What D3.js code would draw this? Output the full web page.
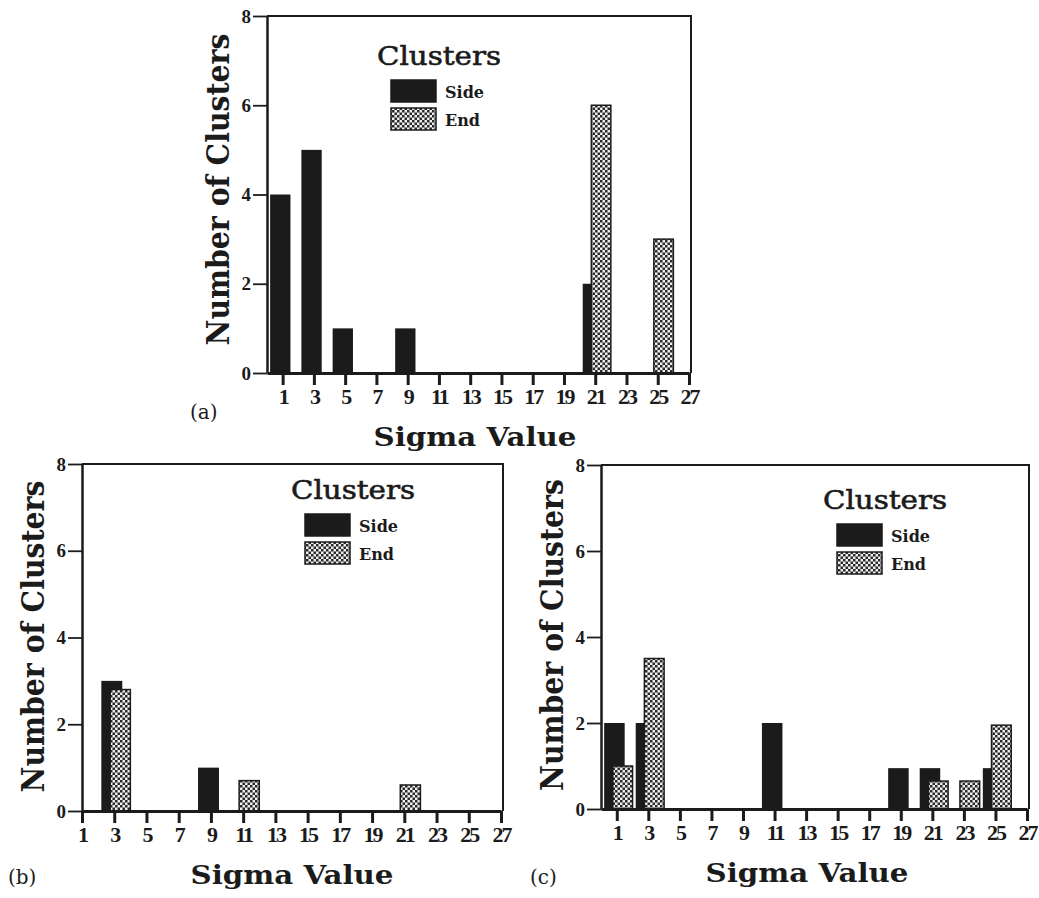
<!DOCTYPE html>
<html>
<head>
<meta charset="utf-8">
<script src="https://cdn.jsdelivr.net/npm/d3@7"></script>
<style>
  body { margin: 0; background: #fff; }
  svg { display: block; }
</style>
</head>
<body>
<div id="grafico"></div>
<script>
// dados
const sigmaTicks = [1, 3, 5, 7, 9, 11, 13, 15, 17, 19, 21, 23, 25, 27];
const yTicks = [0, 2, 4, 6, 8];
const legendTitle = "Clusters";
const seriesNames = ["Side", "End"];

// painel (a)
const sigmaSideA = [1, 3, 5, 9, 21];
const sideA = [4, 5, 1, 1, 2];
const sigmaEndA = [21, 25];
const endA = [6, 3];

// painel (b)
const sigmaSideB = [3, 9];
const sideB = [3, 1];
const sigmaEndB = [3, 11, 21];
const endB = [2.8, 0.7, 0.6];

// painel (c)
const sigmaSideC = [1, 3, 11, 19, 21, 25];
const sideC = [2, 2, 2, 0.95, 0.95, 0.95];
const sigmaEndC = [1, 3, 21, 23, 25];
const endC = [1, 3.5, 0.65, 0.65, 1.95];

const svg = d3.select("#grafico")
    .append("svg")
    .attr("width", 1039)
    .attr("height", 898)
    .style("background", "#fff");

// padrao pontilhado das barras "End"
const pat = svg.append("defs").append("pattern")
    .attr("id", "pontos")
    .attr("width", 5).attr("height", 5)
    .attr("patternUnits", "userSpaceOnUse");
pat.append("rect").attr("width", 5).attr("height", 5).attr("fill", "#eeeeee");
pat.append("rect").attr("width", 2.5).attr("height", 2.5).attr("fill", "#2b2b2b");
pat.append("rect").attr("x", 2.5).attr("y", 2.5).attr("width", 2.5).attr("height", 2.5).attr("fill", "#2b2b2b");

const serif = "'DejaVu Serif', serif";
const tickFont = "'Liberation Serif', 'Times New Roman', serif";

function criarPainel(p) {
    const x = d3.scaleLinear().domain(p.xDomain).range([p.left, p.right]);
    const y = d3.scaleLinear().domain([0, 8]).range([p.bottom, p.top]);
    const g = svg.append("g");

    const side = p.sigmaSide.map((s, i) => ({ s: s, v: p.side[i] }));
    const end = p.sigmaEnd.map((s, i) => ({ s: s, v: p.end[i] }));

    // barras Side (pretas)
    g.selectAll(".side")
        .data(side)
        .enter()
        .append("rect")
        .attr("class", "side")
        .attr("x", d => Math.max(p.left, x(d.s - 0.8)))
        .attr("width", d => x(d.s + 0.5) - Math.max(p.left, x(d.s - 0.8)))
        .attr("y", d => y(d.v))
        .attr("height", d => y(0) - y(d.v))
        .attr("fill", "#1b1b1b");

    // barras End (pontilhadas), por cima
    g.selectAll(".end")
        .data(end)
        .enter()
        .append("rect")
        .attr("class", "end")
        .attr("x", d => x(d.s - 0.25))
        .attr("width", d => x(d.s + 1) - x(d.s - 0.25))
        .attr("y", d => y(d.v))
        .attr("height", d => y(0) - y(d.v))
        .attr("fill", "url(#pontos)")
        .attr("stroke", "#1b1b1b")
        .attr("stroke-width", 1.5);

    // moldura de cima e da direita
    g.append("path")
        .attr("d", `M${p.left},${p.top}H${p.right + 2}V${p.bottom}`)
        .attr("fill", "none")
        .attr("stroke", "#1b1b1b")
        .attr("stroke-width", 2);

    // eixo y
    const ay = g.append("g")
        .attr("transform", `translate(${p.left},0)`)
        .attr("font-size", 19)
        .call(d3.axisLeft(y).tickValues(yTicks).tickSizeInner(14).tickSizeOuter(0).tickPadding(2));
    ay.attr("font-size", 19).attr("font-family", tickFont).attr("font-weight", "bold");
    ay.select(".domain").attr("stroke", "#1b1b1b").attr("stroke-width", 2.5);
    ay.selectAll(".tick line").attr("stroke", "#1b1b1b").attr("stroke-width", 1.8);
    ay.selectAll(".tick text").attr("fill", "#1b1b1b");

    // eixo x
    const ax = g.append("g")
        .attr("transform", `translate(0,${p.bottom})`)
        .call(d3.axisBottom(x).tickValues(sigmaTicks).tickSizeInner(12).tickSizeOuter(0).tickPadding(3));
    ax.attr("font-size", 22).attr("font-family", tickFont).attr("font-weight", "bold");
    ax.select(".domain").attr("stroke", "#1b1b1b").attr("stroke-width", 3);
    ax.selectAll(".tick line").attr("stroke", "#1b1b1b").attr("stroke-width", 3);
    ax.selectAll(".tick text")
        .attr("fill", "#1b1b1b")
        .attr("letter-spacing", "-2px");

    // titulos dos eixos
    g.append("text")
        .attr("transform", `translate(${p.left - 38},${(p.top + p.bottom) / 2 + p.yTitleDy}) rotate(-90)`)
        .attr("text-anchor", "middle")
        .attr("textLength", 312)
        .attr("lengthAdjust", "spacingAndGlyphs")
        .attr("fill", "#1b1b1b")
        .style("font-family", serif)
        .style("font-weight", "bold")
        .style("font-size", "31px")
        .text("Number of Clusters");

    g.append("text")
        .attr("x", p.xTitle)
        .attr("y", p.bottom + 73)
        .attr("text-anchor", "middle")
        .attr("textLength", 203)
        .attr("lengthAdjust", "spacingAndGlyphs")
        .attr("fill", "#1b1b1b")
        .style("font-family", serif)
        .style("font-weight", "bold")
        .style("font-size", "26px")
        .text("Sigma Value");

    // letra do painel
    g.append("text")
        .attr("x", p.letterX)
        .attr("y", p.letterY)
        .attr("fill", "#1b1b1b")
        .style("font-family", serif)
        .style("font-size", "20px")
        .text(p.letter);

    // legenda
    const lg = g.append("g").attr("transform", `translate(${p.legX},${p.legY})`);
    lg.append("text")
        .attr("textLength", 124)
        .attr("lengthAdjust", "spacingAndGlyphs")
        .attr("fill", "#1b1b1b")
        .attr("stroke", "#1b1b1b")
        .attr("stroke-width", 0.6)
        .style("font-family", serif)
        .style("font-size", "26px")
        .text(legendTitle);
    lg.selectAll(".sw")
        .data(seriesNames)
        .enter()
        .append("rect")
        .attr("class", "sw")
        .attr("x", 14)
        .attr("y", (d, i) => 15 + i * 28)
        .attr("width", 45)
        .attr("height", 22)
        .attr("fill", (d, i) => i === 0 ? "#1b1b1b" : "url(#pontos)")
        .attr("stroke", "#1b1b1b")
        .attr("stroke-width", 1.5);
    lg.selectAll(".lb")
        .data(seriesNames)
        .enter()
        .append("text")
        .attr("class", "lb")
        .attr("x", 68)
        .attr("y", (d, i) => 33 + i * 28)
        .attr("fill", "#1b1b1b")
        .style("font-family", serif)
        .style("font-weight", "bold")
        .style("font-size", "16px")
        .text(d => d);
}

criarPainel({
    left: 267, right: 689, top: 16, bottom: 373, xDomain: [0, 27],
    sigmaSide: sigmaSideA, side: sideA, sigmaEnd: sigmaEndA, end: endA,
    xTitle: 475, yTitleDy: -5, letter: "(a)", letterX: 190, letterY: 419,
    legX: 377, legY: 65
});
criarPainel({
    left: 82, right: 501, top: 464, bottom: 811, xDomain: [1, 27],
    sigmaSide: sigmaSideB, side: sideB, sigmaEnd: sigmaEndB, end: endB,
    xTitle: 292, yTitleDy: -1, letter: "(b)", letterX: 8, letterY: 884,
    legX: 291, legY: 499
});
criarPainel({
    left: 601, right: 1027, top: 465, bottom: 809, xDomain: [0, 27],
    sigmaSide: sigmaSideC, side: sideC, sigmaEnd: sigmaEndC, end: endC,
    xTitle: 807, yTitleDy: -2, letter: "(c)", letterX: 530, letterY: 884,
    legX: 823, legY: 509
});
</script>
</body>
</html>
